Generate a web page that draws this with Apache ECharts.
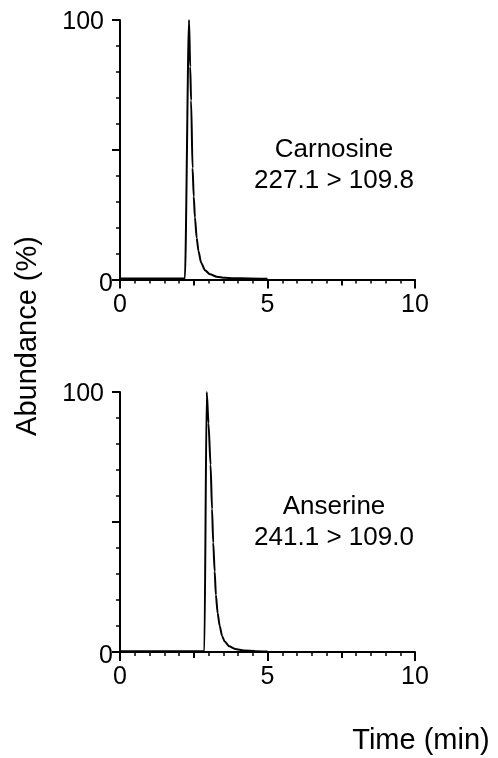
<!DOCTYPE html>
<html>
<head>
<meta charset="utf-8">
<script src="https://cdn.jsdelivr.net/npm/echarts@6/dist/echarts.min.js"></script>
<style>
html,body{margin:0;padding:0;background:#fff;}
#c{width:498px;height:758px;}
</style>
</head>
<body>
<div id="c"></div>
<script>
// Carnosine (227.1 > 109.8) chromatogram
var carnTime = [0, 1.0, 2.0, 2.20, 2.34, 2.38, 2.41, 2.46, 2.50, 2.54, 2.60, 2.66, 2.75, 2.88, 3.05, 3.28, 3.55, 3.84, 4.4, 5.0];
var carnAbund = [0.4, 0.4, 0.4, 0.4, 100, 82, 69, 43, 32, 24, 16, 11, 6.5, 3.6, 2.0, 1.1, 0.7, 0.5, 0.4, 0.3];
// Anserine (241.1 > 109.0) chromatogram
var anseTime = [0, 1.5, 2.5, 2.86, 2.94, 3.00, 3.07, 3.12, 3.16, 3.21, 3.25, 3.31, 3.38, 3.46, 3.55, 3.70, 3.90, 4.20, 4.60, 5.0];
var anseAbund = [0.3, 0.3, 0.3, 0.3, 100, 88, 72, 55, 42, 31, 22, 15, 10, 6.2, 4.0, 2.2, 1.2, 0.6, 0.3, 0.2];

var xTicksMajor = [0, 5, 10];
var yTicksShown = [0, 100];
var labelsTop = ['Carnosine', '227.1 > 109.8'];
var labelsBottom = ['Anserine', '241.1 > 109.0'];
var yTitle = 'Abundance (%)';
var xTitle = 'Time (min)';

var FONT = '"Liberation Sans", Arial, Helvetica, sans-serif';
var BLACK = '#000';

function pairs(t, v) { return t.map(function (x, i) { return [x, v[i]]; }); }

var grids = [
  { left: 120, top: 20, width: 295, height: 259.5 },
  { left: 120, top: 392, width: 295, height: 260 }
];

var xAxes = [], yAxes = [];
grids.forEach(function (g, i) {
  xAxes.push({
    gridIndex: i, type: 'value', min: 0, max: 10, interval: 5, position: 'bottom',
    axisLine: { show: true, onZero: false, lineStyle: { color: BLACK, width: 2 } },
    axisTick: { show: true, length: 9, lineStyle: { color: BLACK, width: 2 } },
    axisLabel: {
      show: true, color: BLACK, fontSize: 25, fontFamily: FONT, margin: 13,
      formatter: function (v) { return xTicksMajor.indexOf(v) >= 0 ? String(v) : ''; }
    },
    splitLine: { show: false }
  });
  xAxes.push({
    gridIndex: i, type: 'value', min: 0, max: 10, interval: 2.5, position: 'bottom', offset: 0,
    axisLine: { show: false },
    axisTick: { show: true, length: 6, lineStyle: { color: BLACK, width: 2 } },
    minorTick: { show: true, splitNumber: 5, length: 4, lineStyle: { color: BLACK, width: 1.5 } },
    axisLabel: { show: false },
    splitLine: { show: false },
    minorSplitLine: { show: false }
  });
  yAxes.push({
    gridIndex: i, type: 'value', min: 0, max: 100, interval: 50,
    axisLine: { show: true, onZero: false, lineStyle: { color: BLACK, width: 2 } },
    axisTick: { show: true, length: 8, lineStyle: { color: BLACK, width: 2 } },
    minorTick: { show: true, splitNumber: 5, length: 4, lineStyle: { color: BLACK, width: 1.5 } },
    axisLabel: {
      show: true, color: BLACK, fontSize: 25, fontFamily: FONT, margin: 7,
      formatter: function (v) {
        if (yTicksShown.indexOf(v) < 0) return '';
        return v === 100 ? '{a|' + v + '}' : '{b|' + v + '}';
      },
      rich: {
        a: { fontSize: 25, fontFamily: FONT, color: BLACK, padding: [5, 9, 0, 0] },
        b: { fontSize: 25, fontFamily: FONT, color: BLACK, padding: [9, 0, 0, 0] }
      }
    },
    splitLine: { show: false },
    minorSplitLine: { show: false }
  });
});

var lineStyle = { color: BLACK, width: 2 };
var option = {
  animation: false,
  backgroundColor: '#fff',
  grid: grids,
  xAxis: xAxes,
  yAxis: yAxes,
  series: [
    { type: 'line', xAxisIndex: 0, yAxisIndex: 0, data: pairs(carnTime, carnAbund), showSymbol: false,
      smooth: 0.25, smoothMonotone: 'x', lineStyle: lineStyle, itemStyle: { color: BLACK } },
    { type: 'line', xAxisIndex: 2, yAxisIndex: 1, data: pairs(anseTime, anseAbund), showSymbol: false,
      smooth: 0.25, smoothMonotone: 'x', lineStyle: lineStyle, itemStyle: { color: BLACK } }
  ],
  graphic: [
    { type: 'text', x: 334, y: 134, style: { text: labelsTop.join('\n'), font: '26px ' + FONT, fill: BLACK, align: 'center', verticalAlign: 'top', lineHeight: 31 } },
    { type: 'text', x: 334, y: 491, style: { text: labelsBottom.join('\n'), font: '26px ' + FONT, fill: BLACK, align: 'center', verticalAlign: 'top', lineHeight: 31 } },
    { type: 'text', x: 28, y: 336, rotation: Math.PI / 2, style: { text: yTitle, font: '29px ' + FONT, fill: BLACK, align: 'center', verticalAlign: 'middle' } },
    { type: 'text', x: 421, y: 741, style: { text: xTitle, font: '29px ' + FONT, fill: BLACK, align: 'center', verticalAlign: 'middle' } }
  ]
};

var chart = echarts.init(document.getElementById('c'), null, { renderer: 'canvas' });
chart.setOption(option);
</script>
</body>
</html>
